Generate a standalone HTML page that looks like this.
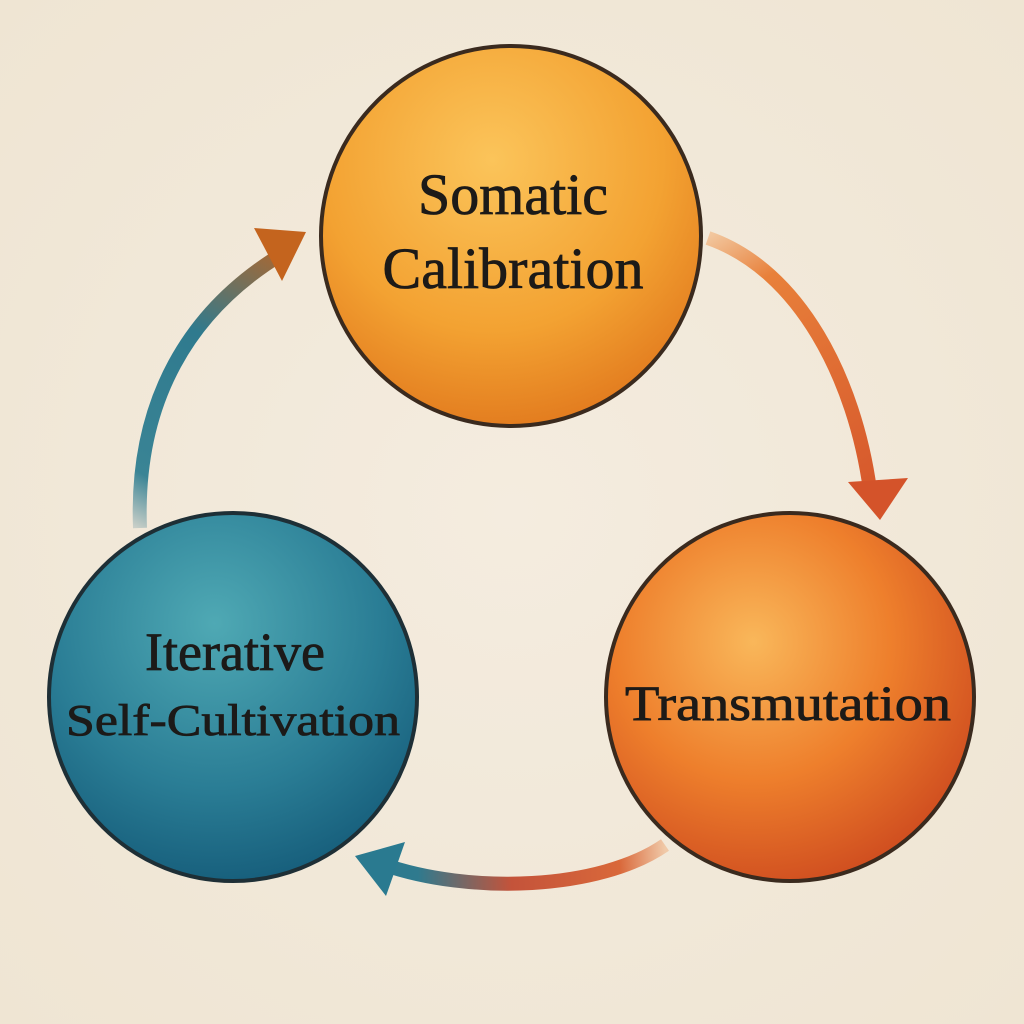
<!DOCTYPE html>
<html><head><meta charset="utf-8"><style>
html,body{margin:0;padding:0;background:#f2eadb;}
svg{display:block}
</style></head><body>
<svg width="1024" height="1024" viewBox="0 0 1024 1024">
<defs>
<radialGradient id="bg" cx="50%" cy="50%" r="70%"><stop offset="0" stop-color="#f4ecdf"/><stop offset="1" stop-color="#efe5d3"/></radialGradient>
<radialGradient id="gt" cx="45%" cy="30%" r="75%"><stop offset="0" stop-color="#fbc45a"/><stop offset="0.6" stop-color="#f3a232"/><stop offset="1" stop-color="#e0761c"/></radialGradient>
<radialGradient id="gr" cx="40%" cy="35%" r="75%"><stop offset="0" stop-color="#f9b75a"/><stop offset="0.5" stop-color="#ee7f2c"/><stop offset="1" stop-color="#c9431d"/></radialGradient>
<radialGradient id="gl" cx="45%" cy="30%" r="75%"><stop offset="0" stop-color="#4fa9b4"/><stop offset="0.6" stop-color="#2a7d95"/><stop offset="1" stop-color="#145a78"/></radialGradient>
<linearGradient id="al" x1="140" y1="530" x2="300" y2="235" gradientUnits="userSpaceOnUse"><stop offset="0" stop-color="#c9cfc8"/><stop offset="0.15" stop-color="#3a8495"/><stop offset="0.6" stop-color="#2f7a8e"/><stop offset="1" stop-color="#c4641e"/></linearGradient>
<linearGradient id="ar" x1="708" y1="235" x2="880" y2="520" gradientUnits="userSpaceOnUse"><stop offset="0" stop-color="#f2c8a0"/><stop offset="0.2" stop-color="#e8803a"/><stop offset="1" stop-color="#d4532a"/></linearGradient>
<linearGradient id="ab" x1="665" y1="845" x2="355" y2="860" gradientUnits="userSpaceOnUse"><stop offset="0" stop-color="#f0c9a8"/><stop offset="0.15" stop-color="#d9683a"/><stop offset="0.5" stop-color="#c4533a"/><stop offset="0.8" stop-color="#2f7a8e"/><stop offset="1" stop-color="#2a7a90"/></linearGradient>
</defs>
<rect width="1024" height="1024" fill="url(#bg)"/>
<path d="M140 528 C 135 400 190 310 282 254" fill="none" stroke="url(#al)" stroke-width="14"/>
<polygon points="306,232 254,228 282,281" fill="#c4641e"/>
<path d="M708 238 C 800 270 855 380 870 490" fill="none" stroke="url(#ar)" stroke-width="14"/>
<polygon points="880,520 848,482 908,478" fill="#d4532a"/>
<path d="M665 845 C 600 890 470 895 382 864" fill="none" stroke="url(#ab)" stroke-width="14"/>
<polygon points="355,856 405,842 386,896" fill="#2a7a90"/>
<circle cx="511" cy="236" r="190" fill="url(#gt)" stroke="#3a2a1e" stroke-width="4"/>
<circle cx="790" cy="697" r="184" fill="url(#gr)" stroke="#3a2a1e" stroke-width="4"/>
<circle cx="233" cy="697" r="184" fill="url(#gl)" stroke="#1e2f36" stroke-width="4"/>
<g font-family="Liberation Serif, serif" fill="#1c1a18" stroke="#1c1a18" stroke-width="0.8" text-anchor="middle">
<text x="513" y="214" font-size="58">Somatic</text>
<text x="513" y="288" font-size="58">Calibration</text>
<text x="788" y="720" font-size="50" textLength="326" lengthAdjust="spacingAndGlyphs">Transmutation</text>
<text x="235" y="670" font-size="54">Iterative</text>
<text x="233" y="735" font-size="44" textLength="334" lengthAdjust="spacingAndGlyphs">Self-Cultivation</text>
</g>
</svg>
</body></html>
